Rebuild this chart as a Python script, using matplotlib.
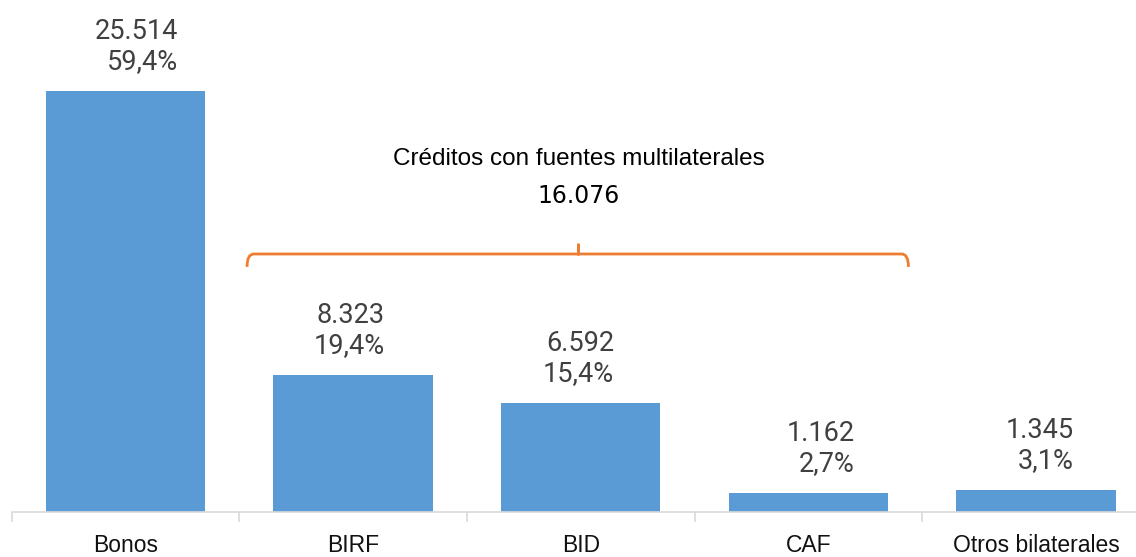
import matplotlib
matplotlib.use("Agg")
import matplotlib.pyplot as plt
from matplotlib.path import Path
from matplotlib.patches import PathPatch

categories = ["Bonos", "BIRF", "BID", "CAF", "Otros bilaterales"]
values = [25514, 8323, 6592, 1162, 1345]
value_labels = ["25.514", "8.323", "6.592", "1.162", "1.345"]
pct_labels = ["59,4%", "19,4%", "15,4%", "2,7%", "3,1%"]
group_title = "Créditos con fuentes multilaterales"
group_total = "16.076"

W, H = 1136, 557
fig = plt.figure(figsize=(W / 100, H / 100), dpi=100)
cw = 227.6
left = 11.7
ax = fig.add_axes([left / W, (H - 512) / H, 5 * cw / W, 512 / H])
ax.set_xlim(-0.5, 4.5)
ax.set_ylim(0, 512 / 421 * 25514)

x = list(range(len(categories)))
ax.bar(x, values, width=0.7, color="#5B9BD5", zorder=2)

for s in ["top", "right", "left"]:
    ax.spines[s].set_visible(False)
ax.spines["bottom"].set_color("#D9D9D9")
ax.spines["bottom"].set_linewidth(1.2)
ax.set_yticks([])
ax.set_xticks([i - 0.5 for i in range(6)], minor=False)
ax.set_xticklabels([])
ax.tick_params(axis="x", which="major", length=7.5, color="#D9D9D9", width=1.2)
ax.set_xticks(x, minor=True)
ax.set_xticklabels(categories, minor=True, fontsize=16.5,
                   family=["Liberation Sans", "DejaVu Sans"], color="#111111")
ax.tick_params(axis="x", which="minor", length=0, pad=15.5)

offsets = [11, -4, -2, 12, 4]
for xi, v, vl, pl, off in zip(x, values, value_labels, pct_labels, offsets):
    ax.annotate(vl + "\n" + pl, (xi, v), xytext=(off, 16), textcoords="offset pixels",
                ha="center", va="bottom", multialignment="right",
                fontsize=19.5, family=["Roboto", "DejaVu Sans"], color="#404040",
                linespacing=1.15)

# bracket
yb = 15636
x0, x1, xm = 0.534, 3.44, 1.99
dy_end = 780
dx_r = 0.03
dy_up = 620
verts = [(x0, yb - dy_end), (x0, yb), (x0 + dx_r, yb),
         (xm - 0.01, yb), (xm, yb), (xm, yb + dy_up), (xm, yb), (xm + 0.01, yb),
         (x1 - dx_r, yb), (x1, yb), (x1, yb - dy_end)]
codes = [Path.MOVETO, Path.CURVE3, Path.CURVE3,
         Path.LINETO, Path.LINETO, Path.LINETO, Path.LINETO, Path.LINETO,
         Path.LINETO, Path.CURVE3, Path.CURVE3]
ax.add_patch(PathPatch(Path(verts, codes), fill=False, edgecolor="#ED7D31", lw=2, zorder=3))

ax.text(xm, 21030, group_title, ha="center", va="baseline", fontsize=17.5,
        family=["Liberation Sans", "DejaVu Sans"], color="black")
ax.text(xm, 18726, group_total, ha="center", va="baseline", fontsize=17,
        family=["DejaVu Sans"], color="black")

fig.savefig("out.png", dpi=100)
